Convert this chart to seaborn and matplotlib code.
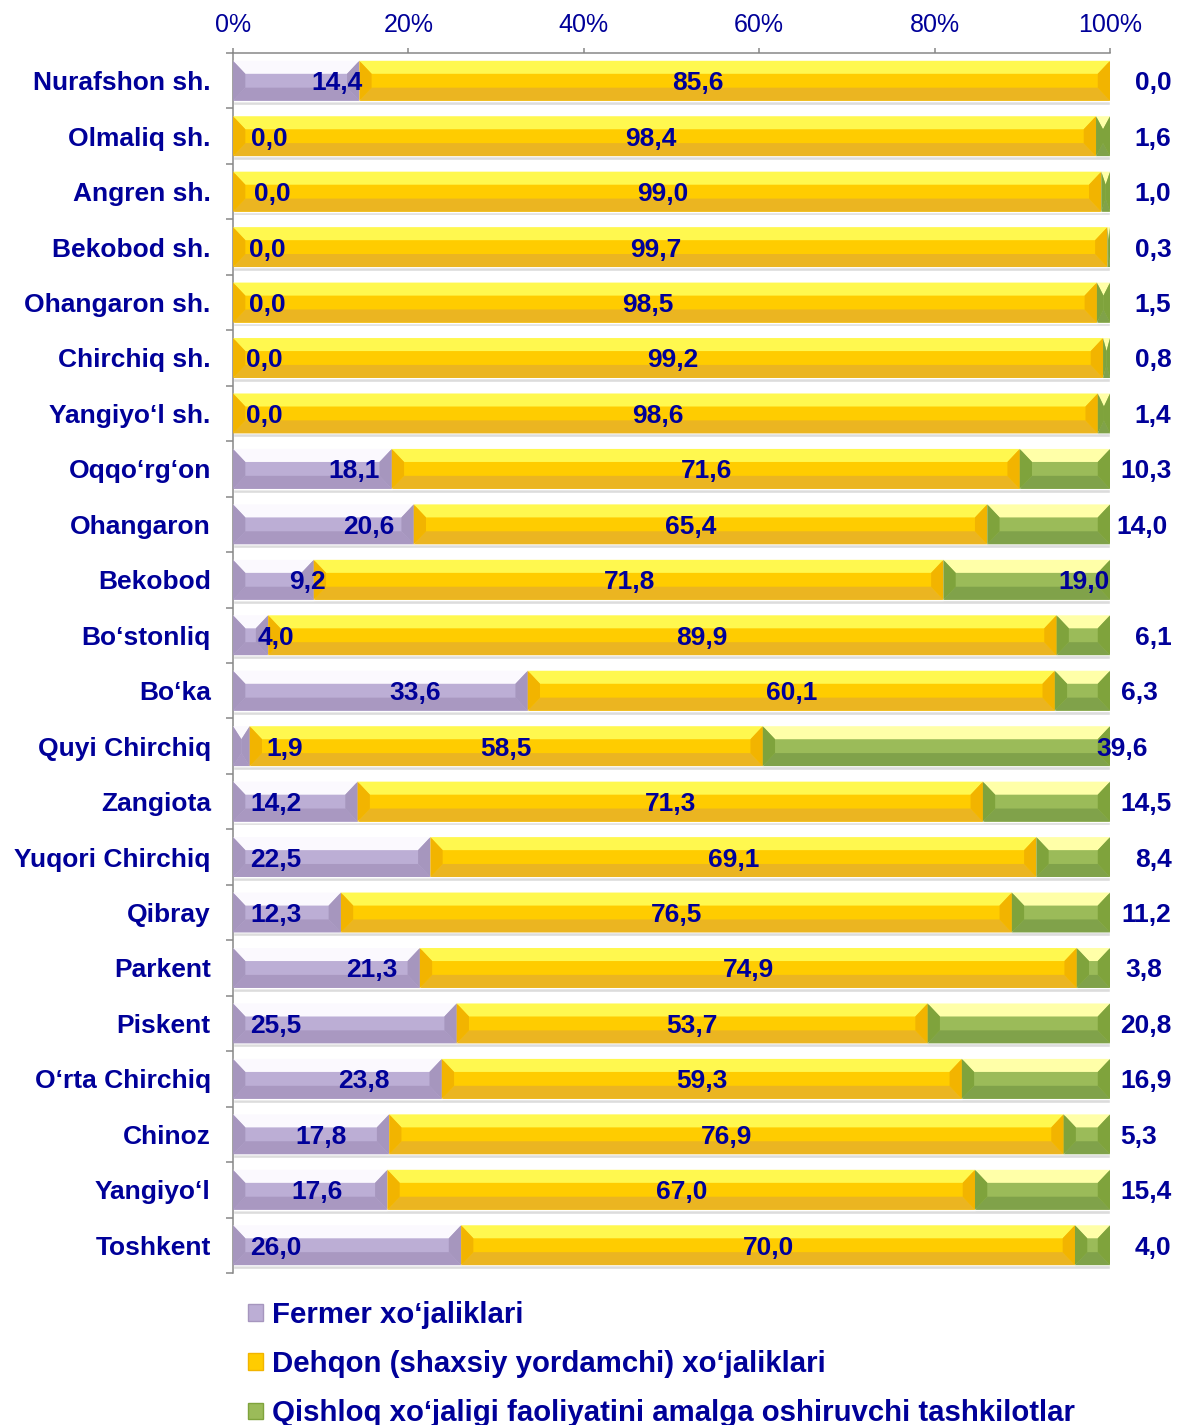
import seaborn as sns
import matplotlib.pyplot as plt
from matplotlib.patches import Polygon, Patch
import numpy as np
import pandas as pd

# categories, top to bottom
districts = ["Nurafshon sh.", "Olmaliq sh.", "Angren sh.", "Bekobod sh.",
             "Ohangaron sh.", "Chirchiq sh.", "Yangiyo‘l sh.", "Oqqo‘rg‘on",
             "Ohangaron", "Bekobod", "Bo‘stonliq", "Bo‘ka", "Quyi Chirchiq",
             "Zangiota", "Yuqori Chirchiq", "Qibray", "Parkent", "Piskent",
             "O‘rta Chirchiq", "Chinoz", "Yangiyo‘l", "Toshkent"]

fermer = [14.4, 0.0, 0.0, 0.0, 0.0, 0.0, 0.0, 18.1, 20.6, 9.2, 4.0, 33.6,
          1.9, 14.2, 22.5, 12.3, 21.3, 25.5, 23.8, 17.8, 17.6, 26.0]
dehqon = [85.6, 98.4, 99.0, 99.7, 98.5, 99.2, 98.6, 71.6, 65.4, 71.8, 89.9, 60.1,
          58.5, 71.3, 69.1, 76.5, 74.9, 53.7, 59.3, 76.9, 67.0, 70.0]
qishloq = [0.0, 1.6, 1.0, 0.3, 1.5, 0.8, 1.4, 10.3, 14.0, 19.0, 6.1, 6.3,
           39.6, 14.5, 8.4, 11.2, 3.8, 20.8, 16.9, 5.3, 15.4, 4.0]

series_names = ["Fermer xo‘jaliklari",
                "Dehqon (shaxsiy yordamchi) xo‘jaliklari",
                "Qishloq xo‘jaligi faoliyatini amalga oshiruvchi tashkilotlar"]

# label placement (layout only, in axis %)
fermer_lbl_left = [8.9, 2.0, 2.4, 1.8, 1.8, 1.5, 1.5, 10.9, 12.6, 6.4, 2.8, 17.8,
                   3.8, 2.0, 2.0, 2.0, 12.9, 2.0, 12.0, 7.1, 6.6, 2.0]
dehqon_lbl_shift = [-4.2, -1.6, -0.5, -1.6, -2.0, 0.5, -0.9, 0.1, -1.1, 0.1, 4.5, 0.0,
                    0.0, 0.0, 0.0, 0.0, 0.0, 0.0, 0.0, 0.0, 0.0, 0.0]
qishloq_lbl_right = [107.0, 107.0, 107.0, 107.0, 107.0, 107.0, 107.0, 107.0, 106.6, 100.0,
                     107.0, 105.5, 104.3, 107.0, 107.0, 107.0, 106.0, 107.0, 107.0,
                     105.4, 107.0, 107.0]

# (top highlight, face, bottom shade, side bevel)
palettes = [("#FBF9FE", "#BCAED5", "#A998C1", "#A696BE"),
            ("#FFF84F", "#FFCC00", "#EBB521", "#F2B400"),
            ("#FFFFA8", "#9BBB59", "#80A24A", "#7FA33C")]

NAVY = "#000099"
GREY = "#878787"
BAR_H = 0.72

df = pd.DataFrame({"district": districts, "fermer": fermer,
                   "dehqon": dehqon, "qishloq": qishloq})
df["c1"] = df["fermer"]
df["c2"] = df["fermer"] + df["dehqon"]
df["c3"] = df["c2"] + df["qishloq"]

sns.set_style("white")
plt.rcParams["font.family"] = ["Liberation Sans", "DejaVu Sans"]

fig = plt.figure(figsize=(11.89, 14.25), dpi=100)
ax = fig.add_axes([0.196, 0.1067, 0.7376, 0.8561])

# soft shadow under the bars
ax.barh(np.arange(len(districts)) + 0.07, df["c3"], height=BAR_H,
        color="#DCDCDC", zorder=1)

for col, pal in zip(["c3", "c2", "c1"], palettes[::-1]):
    sns.barplot(data=df, y="district", x=col, orient="h", color=pal[1],
                saturation=1, width=BAR_H, ax=ax, zorder=2)


def bevel(y, x0, x1, pal):
    if x1 - x0 <= 0:
        return
    top, face, bot, side = pal
    h = BAR_H / 2
    b = 0.235
    d = min(1.4, (x1 - x0) / 2)
    yt, yb = y - h, y + h
    polys = [
        ([(x0, yt), (x1, yt), (x1 - d, yt + b), (x0 + d, yt + b)], top),
        ([(x0, yb), (x1, yb), (x1 - d, yb - b), (x0 + d, yb - b)], bot),
        ([(x0, yt), (x0 + d, yt + b), (x0 + d, yb - b), (x0, yb)], side),
        ([(x1, yt), (x1 - d, yt + b), (x1 - d, yb - b), (x1, yb)], side),
    ]
    for pts, c in polys:
        ax.add_patch(Polygon(pts, closed=True, facecolor=c, edgecolor="none", zorder=3))


def fmt(v):
    return f"{v:.1f}".replace(".", ",")


lab_kw = dict(color=NAVY, fontsize=19, fontweight="bold", va="center_baseline", zorder=5)
for i in range(len(districts)):
    starts = [0, df["c1"][i], df["c2"][i]]
    ends = [df["c1"][i], df["c2"][i], df["c3"][i]]
    for k in range(3):
        bevel(i, starts[k], ends[k], palettes[k])
    ax.text(fermer_lbl_left[i], i, fmt(fermer[i]), ha="left", **lab_kw)
    ax.text((starts[1] + ends[1]) / 2 + dehqon_lbl_shift[i], i, fmt(dehqon[i]),
            ha="center", **lab_kw)
    ax.text(qishloq_lbl_right[i], i, fmt(qishloq[i]), ha="right", clip_on=False, **lab_kw)

ax.set_xlim(0, 100)
ax.set_ylim(len(districts) - 0.5, -0.5)
ax.set_xlabel("")
ax.set_ylabel("")

ax.xaxis.tick_top()
ax.set_xticks(np.arange(0, 101, 20))
ax.set_xticklabels([f"{v}%" for v in range(0, 101, 20)])
ax.tick_params(axis="x", direction="out", length=3.5, width=1.1, color=GREY,
               top=True, bottom=False, labeltop=True, labelbottom=False,
               labelsize=18, labelcolor=NAVY, pad=8)

ax.set_yticks(np.arange(len(districts)))
ax.set_yticklabels(districts, fontweight="bold")
ax.set_yticks(np.arange(len(districts) + 1) - 0.5, minor=True)
ax.tick_params(axis="y", which="major", left=False, length=0, labelsize=19,
               labelcolor=NAVY, pad=16)
ax.tick_params(axis="y", which="minor", left=True, direction="out", length=5,
               width=1.1, color=GREY)

for side in ["right", "bottom"]:
    ax.spines[side].set_visible(False)
for side in ["top", "left"]:
    ax.spines[side].set_color(GREY)
    ax.spines[side].set_linewidth(1.1)

handles = [Patch(facecolor=p[1], edgecolor=p[3], linewidth=1.0) for p in palettes]
fig.legend(handles, series_names, loc="upper left",
           bbox_to_anchor=(248 / 1189, 1 - 1301 / 1425), frameon=False,
           prop={"size": 21.2, "weight": "bold"}, labelcolor=NAVY,
           handlelength=0.5, handleheight=0.5, handletextpad=0.3,
           labelspacing=0.72, borderpad=0, borderaxespad=0)

fig.savefig("out.png", dpi=100)
